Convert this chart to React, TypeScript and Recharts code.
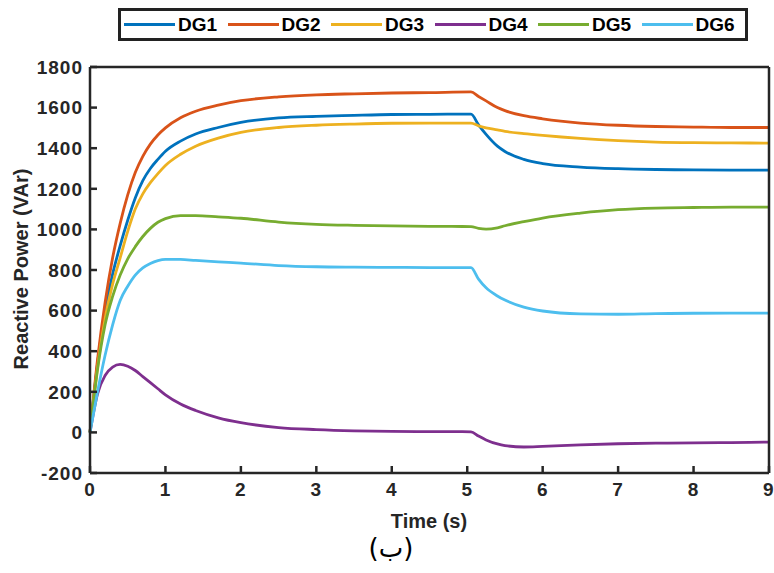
import React from 'react';
import { LineChart, Line, XAxis, YAxis } from 'recharts';

const time = [0, 0.1, 0.2, 0.3, 0.4, 0.5, 0.6, 0.7, 0.8, 0.9, 1.0, 1.2, 1.4, 1.7, 2, 2.5, 3, 3.5, 4, 4.5, 5.05, 5.15, 5.25, 5.4, 5.5, 5.75, 6, 6.5, 7, 7.5, 8, 8.5, 9];

const dg1 = [0, 340, 600, 780, 920, 1045, 1155, 1240, 1300, 1345, 1385, 1435, 1470, 1502, 1527, 1549, 1557, 1562, 1566, 1567, 1568, 1515, 1468, 1410, 1384, 1345, 1324, 1307, 1299, 1295, 1293, 1292, 1292];
const dg2 = [0, 360, 640, 860, 1030, 1170, 1280, 1360, 1420, 1465, 1500, 1550, 1582, 1612, 1634, 1653, 1663, 1668, 1672, 1674, 1677, 1655, 1633, 1600, 1585, 1560, 1545, 1524, 1513, 1507, 1504, 1502, 1502];
const dg3 = [0, 320, 560, 730, 860, 990, 1100, 1175, 1230, 1275, 1315, 1370, 1410, 1450, 1478, 1502, 1513, 1519, 1523, 1524, 1524, 1510, 1500, 1490, 1483, 1472, 1463, 1448, 1437, 1430, 1427, 1426, 1425];
const dg4 = [0, 190, 280, 322, 335, 326, 305, 275, 245, 215, 185, 140, 108, 72, 48, 24, 14, 8, 5, 4, 3, -18, -37, -57, -65, -72, -69, -61, -56, -53, -52, -50, -48];
const dg5 = [0, 310, 530, 670, 775, 855, 915, 965, 1005, 1035, 1053, 1068, 1068, 1062, 1055, 1036, 1025, 1020, 1017, 1015, 1014, 1005, 1001, 1008, 1018, 1038, 1056, 1080, 1097, 1105, 1108, 1110, 1110];
const dg6 = [0, 200, 380, 530, 650, 720, 775, 810, 832, 846, 852, 852, 847, 840, 834, 822, 816, 814, 813, 812, 812, 755, 712, 672, 652, 617, 598, 584, 582, 585, 587, 588, 588];

const xTicks = [0, 1, 2, 3, 4, 5, 6, 7, 8, 9];
const yTicks = [-200, 0, 200, 400, 600, 800, 1000, 1200, 1400, 1600, 1800];

const series = [
  { key: 'DG1', values: dg1, color: '#0072BD' },
  { key: 'DG2', values: dg2, color: '#D95319' },
  { key: 'DG3', values: dg3, color: '#EDB120' },
  { key: 'DG4', values: dg4, color: '#7E2F8E' },
  { key: 'DG5', values: dg5, color: '#77AC30' },
  { key: 'DG6', values: dg6, color: '#4DBEEE' },
];

const rows = time.map((t, i) => {
  const row: Record<string, number> = { t };
  series.forEach((s) => {
    row[s.key] = s.values[i];
  });
  return row;
});

const font = '"Liberation Sans", Arial, sans-serif';
const axisColor = '#262626';
const tickStyle = { fontFamily: font, fontSize: 19, fontWeight: 700, fill: axisColor, letterSpacing: 1 };

const YLabel = ({ viewBox }: any) => (
  <text
    x={21}
    y={269}
    transform='rotate(-90, 21, 269)'
    textAnchor='middle'
    dominantBaseline='central'
    style={{ fontFamily: font, fontSize: 20, fontWeight: 700, fill: axisColor }}
  >
    Reactive Power (VAr)
  </text>
);

const XLabel = ({ viewBox }: any) => (
  <text
    x={429}
    y={521}
    textAnchor='middle'
    dominantBaseline='central'
    style={{ fontFamily: font, fontSize: 20, fontWeight: 700, fill: axisColor }}
  >
    Time (s)
  </text>
);

const LegendBox = () => (
  <div
    style={{
      position: 'absolute',
      left: 118,
      top: 8,
      width: 630,
      height: 33,
      boxSizing: 'border-box',
      border: '3px solid #222',
      background: '#fff',
      display: 'flex',
      alignItems: 'center',
      paddingLeft: 3,
      fontFamily: font,
      fontSize: 19,
      fontWeight: 700,
      color: '#000',
    }}
  >
    {series.map((s) => (
      <div key={s.key} style={{ display: 'flex', alignItems: 'center', width: 104 }}>
        <div style={{ width: 51, height: 3, background: s.color, marginRight: 3 }} />
        <span>{s.key}</span>
      </div>
    ))}
  </div>
);

export default function App() {
  return (
    <div style={{ position: 'absolute', left: 0, top: 0, width: 774, height: 573, background: '#fff' }}>
      <LineChart width={774} height={573} data={rows} margin={{ top: 66, right: 4, bottom: 0, left: 0 }}>
        <XAxis
          dataKey='t'
          type='number'
          domain={[0, 9]}
          ticks={xTicks}
          height={100}
          stroke={axisColor}
          strokeWidth={2.5}
          tickSize={-7}
          tickMargin={17}
          tick={tickStyle}
          label={<XLabel />}
        />
        <XAxis
          xAxisId='top'
          orientation='top'
          type='number'
          dataKey='t'
          domain={[0, 9]}
          ticks={xTicks}
          height={1}
          stroke={axisColor}
          strokeWidth={2.5}
          tickSize={-7}
          tick={false}
        />
        <YAxis
          type='number'
          domain={[-200, 1800]}
          ticks={yTicks}
          width={90}
          stroke={axisColor}
          strokeWidth={2.5}
          tickSize={-7}
          tickMargin={14}
          tick={tickStyle}
          label={<YLabel />}
        />
        <YAxis
          yAxisId='right'
          orientation='right'
          type='number'
          domain={[-200, 1800]}
          ticks={yTicks}
          width={1}
          stroke={axisColor}
          strokeWidth={2.5}
          tickSize={-7}
          tick={false}
        />
        {series.map((s) => (
          <Line
            key={s.key}
            dataKey={s.key}
            type='monotone'
            stroke={s.color}
            strokeWidth={2.8}
            dot={false}
            activeDot={false}
            isAnimationActive={false}
          />
        ))}
      </LineChart>
      <LegendBox />
      <div
        style={{
          position: 'absolute',
          left: 0,
          width: 782,
          top: 533,
          textAlign: 'center',
          fontFamily: '"DejaVu Sans", sans-serif',
          fontSize: 26,
          color: '#000',
        }}
      >
        (ب)
      </div>
    </div>
  );
}
